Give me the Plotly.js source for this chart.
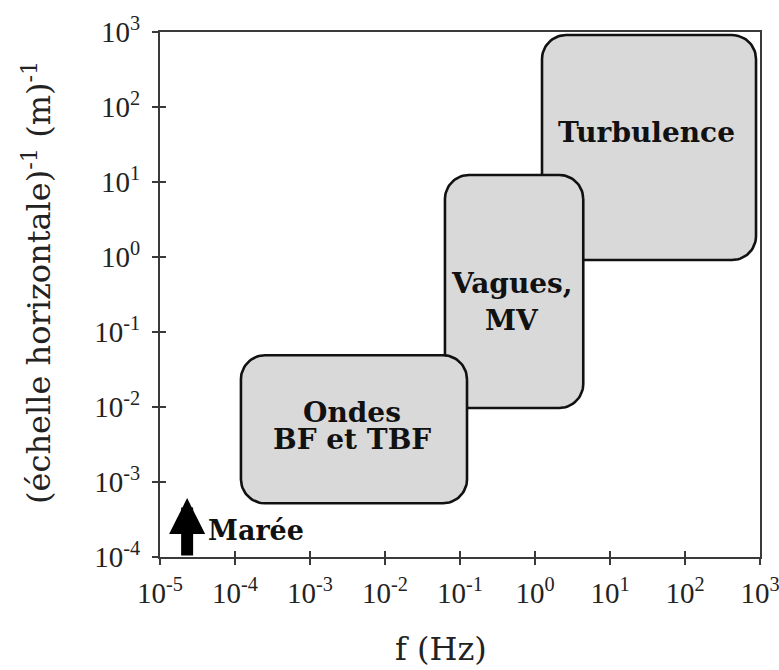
<!DOCTYPE html>
<html>
<head>
<meta charset="utf-8">
<script src="https://cdn.plot.ly/plotly-3.0.1.min.js"></script>
<style>
  html, body { margin: 0; padding: 0; background: #fff; }
  #chart { width: 779px; height: 670px; }
</style>
</head>
<body>
<div id="chart"></div>
<script>
// Domains of ocean motions: frequency (Hz) vs inverse horizontal scale (m^-1)
const regions  = ['Turbulence', 'Vagues, MV', 'Ondes BF et TBF'];
const freqMin  = [1.24, 0.063, 1.2e-4];
const freqMax  = [885, 4.4, 0.124];
const waveMin  = [0.91, 0.0097, 5.2e-4];
const waveMax  = [910, 12.4, 0.049];

// Region captions, one entry per text line, with the point each line is centred on
const captionText = ['Turbulence', 'Vagues,', 'MV', 'Ondes', 'BF et TBF'];
const captionFreq = [31.1, 0.50, 0.50, 0.00363, 0.00363];
const captionWave = [45.7, 0.437, 0.142, 0.00832, 0.00369];

// Tidal forcing
const tideLabel = 'Marée';
const tideFreq  = 2.3e-5;
const tideWaveFrom = 1e-4;
const tideWaveTo   = 6.1e-4;

// Axis ticks
const decadesX = [1e-5, 1e-4, 1e-3, 1e-2, 1e-1, 1e0, 1e1, 1e2, 1e3];
const decadesY = [1e-4, 1e-3, 1e-2, 1e-1, 1e0, 1e1, 1e2, 1e3];
const tickText = v => '10<sup>' + Math.round(Math.log10(v)) + '</sup>';

const SERIF = "'DejaVu Serif', 'Liberation Serif', serif";
const TICKFONT = "'Liberation Serif', 'DejaVu Serif', serif";
const CORNER = 0.32;   // corner radius, in decades
const FRAME = '#3a3a3a';

// Rounded rectangle outline built in log space, returned in data units
function roundedBox(f0, f1, k0, k1, r) {
  const x0 = Math.log10(f0), x1 = Math.log10(f1);
  const y0 = Math.log10(k0), y1 = Math.log10(k1);
  const corners = [[x1 - r, y1 - r, 0], [x0 + r, y1 - r, 90],
                   [x0 + r, y0 + r, 180], [x1 - r, y0 + r, 270]];
  const xs = [], ys = [];
  corners.forEach(([cx, cy, a0]) => {
    for (let a = a0; a <= a0 + 90; a += 5) {
      const t = a * Math.PI / 180;
      xs.push(Math.pow(10, cx + r * Math.cos(t)));
      ys.push(Math.pow(10, cy + r * Math.sin(t)));
    }
  });
  xs.push(xs[0]); ys.push(ys[0]);
  return { xs, ys };
}

const traces = regions.map((name, i) => {
  const b = roundedBox(freqMin[i], freqMax[i], waveMin[i], waveMax[i], CORNER);
  return {
    type: 'scatter', mode: 'lines', name,
    x: b.xs, y: b.ys,
    fill: 'toself', fillcolor: '#d9d9d9',
    line: { color: '#111', width: 2.6 },
    hoverinfo: 'skip', showlegend: false
  };
});
// carrier for the inner tick marks
traces.push({ type: 'scatter', x: [], y: [], xaxis: 'x2', yaxis: 'y2',
              showlegend: false, hoverinfo: 'skip' });

const annotations = captionText.map((t, i) => ({
  text: t, x: Math.log10(captionFreq[i]), y: Math.log10(captionWave[i]),
  xref: 'x', yref: 'y', showarrow: false,
  xanchor: 'center', yanchor: 'middle',
  font: { family: SERIF, size: 28, color: '#111', weight: 'bold' }
}));

// tide arrow
annotations.push({
  text: '', x: Math.log10(tideFreq), y: Math.log10(tideWaveTo),
  ax: Math.log10(tideFreq), ay: Math.log10(tideWaveFrom),
  xref: 'x', yref: 'y', axref: 'x', ayref: 'y',
  showarrow: true, arrowhead: 2, arrowsize: 0.6, arrowwidth: 12,
  arrowcolor: '#000', standoff: 0, startstandoff: 0
});
annotations.push({
  text: tideLabel, x: Math.log10(tideFreq), y: -3.64,
  xref: 'x', yref: 'y', showarrow: false, xanchor: 'left', yanchor: 'middle',
  xshift: 19,
  font: { family: SERIF, size: 27, color: '#111', weight: 'bold' }
});

// axis titles
annotations.push({
  text: '(échelle horizontale)<sup>-1</sup> (m)<sup>-1</sup>',
  xref: 'paper', yref: 'paper', x: -0.205, y: 0.522, textangle: -90,
  showarrow: false, xanchor: 'center', yanchor: 'middle',
  font: { family: SERIF, size: 32, color: '#222' }
});
annotations.push({
  text: 'f (Hz)', xref: 'paper', yref: 'paper', x: 0.468, y: -0.176,
  showarrow: false, xanchor: 'center', yanchor: 'middle',
  font: { family: SERIF, size: 32, color: '#222' }
});

const baseAxis = {
  type: 'log', showgrid: false, zeroline: false,
  tickcolor: FRAME, tickwidth: 1.6, ticklen: 6
};

const layout = {
  width: 779, height: 670,
  margin: { l: 160, r: 19, t: 32, b: 113 },
  paper_bgcolor: '#fff', plot_bgcolor: '#fff',
  showlegend: false,
  xaxis: Object.assign({}, baseAxis, {
    range: [-5, 3], tickvals: decadesX, ticktext: decadesX.map(tickText),
    ticks: 'outside', showline: true, linecolor: FRAME, linewidth: 2, mirror: true,
    ticklabeloverflow: 'allow', ticklabelstandoff: 3,
    tickfont: { family: TICKFONT, size: 29, color: '#222' }
  }),
  yaxis: Object.assign({}, baseAxis, {
    range: [-4, 3], tickvals: decadesY, ticktext: decadesY.map(tickText),
    ticks: 'outside', showline: true, linecolor: FRAME, linewidth: 2, mirror: true,
    ticklabeloverflow: 'allow', ticklabelstandoff: 6,
    tickfont: { family: TICKFONT, size: 29, color: '#222' }
  }),
  xaxis2: Object.assign({}, baseAxis, {
    range: [-5, 3], tickvals: decadesX, ticks: 'inside',
    showticklabels: false, showline: false, overlaying: 'x', anchor: 'y2'
  }),
  yaxis2: Object.assign({}, baseAxis, {
    range: [-4, 3], tickvals: decadesY, ticks: 'inside',
    showticklabels: false, showline: false, overlaying: 'y', anchor: 'x2'
  }),
  annotations
};

Plotly.newPlot('chart', traces, layout, { staticPlot: true, displayModeBar: false });
</script>
</body>
</html>
